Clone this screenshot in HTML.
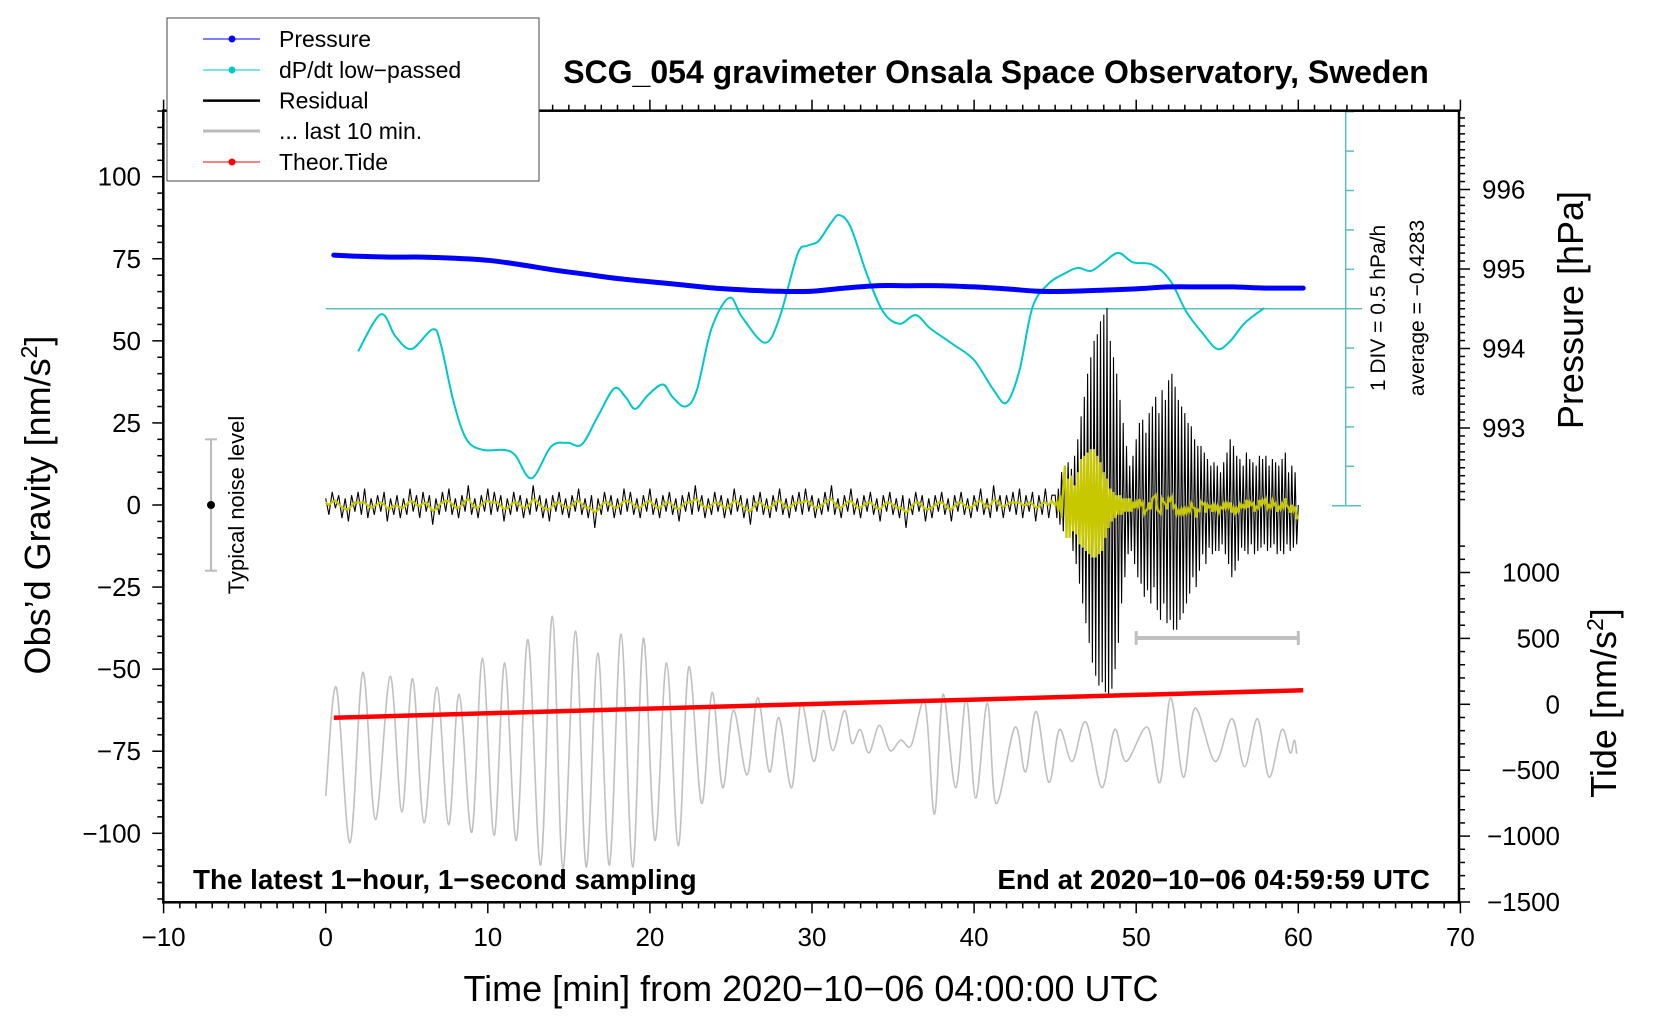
<!DOCTYPE html>
<html><head><meta charset="utf-8"><style>
html,body{margin:0;padding:0;background:#fff;}
svg{display:block;font-family:"Liberation Sans",sans-serif;}
</style></head><body>
<svg id="chart" width="1660" height="1020" viewBox="0 0 1660 1020" xmlns="http://www.w3.org/2000/svg">
<rect x="0" y="0" width="1660" height="1020" fill="#fff"/>
<g id="ticks"></g>
<g id="marks"></g>
<rect x="163.3" y="110.7" width="1295.7" height="791.6" fill="none" stroke="#000" stroke-width="2.5"/>
<text x="996" y="83" text-anchor="middle" font-size="32" font-weight="bold">SCG_054 gravimeter Onsala Space Observatory, Sweden</text>
<text x="193" y="889" font-size="27.8" font-weight="bold">The latest 1−hour, 1−second sampling</text>
<text x="1430" y="889" text-anchor="end" font-size="27.8" font-weight="bold">End at 2020−10−06 04:59:59 UTC</text>
<text x="811" y="1001" text-anchor="middle" font-size="36">Time [min] from 2020−10−06 04:00:00 UTC</text>
<text transform="translate(50,505) rotate(-90)" text-anchor="middle" font-size="36">Obs’d Gravity [nm/s<tspan font-size="23" dy="-13">2</tspan><tspan dy="13">]</tspan></text>
<text transform="translate(1583,310) rotate(-90)" text-anchor="middle" font-size="36">Pressure [hPa]</text>
<text transform="translate(1616,703) rotate(-90)" text-anchor="middle" font-size="36">Tide [nm/s<tspan font-size="23" dy="-13">2</tspan><tspan dy="13">]</tspan></text>
<text transform="translate(1385,308) rotate(-90)" text-anchor="middle" font-size="21">1 DIV = 0.5 hPa/h</text>
<text transform="translate(1424,308) rotate(-90)" text-anchor="middle" font-size="21">average = −0.4283</text>
<g>
<line x1="211" y1="439.3" x2="211" y2="570.7" stroke="#bbb" stroke-width="2"/>
<line x1="205" y1="439.3" x2="217" y2="439.3" stroke="#bbb" stroke-width="2"/>
<line x1="205" y1="570.7" x2="217" y2="570.7" stroke="#bbb" stroke-width="2"/>
<circle cx="211" cy="505" r="4" fill="#000"/>
<text transform="translate(244,505) rotate(-90)" text-anchor="middle" font-size="22">Typical noise level</text>
</g>
<g>
<rect x="167" y="18" width="372" height="163" fill="#fff" stroke="#444" stroke-width="1"/>
<g><line x1="203" y1="39" x2="260" y2="39" stroke="#00f" stroke-width="1"/><circle cx="232" cy="39" r="3.5" fill="#00f"/><text x="279" y="47" font-size="23">Pressure</text></g>
<g><line x1="203" y1="70" x2="260" y2="70" stroke="#00c8c8" stroke-width="1"/><circle cx="232" cy="70" r="3.5" fill="#00c8c8"/><text x="279" y="78" font-size="23">dP/dt low−passed</text></g>
<g><line x1="203" y1="100.6" x2="260" y2="100.6" stroke="#000" stroke-width="2.5"/><text x="279" y="108.6" font-size="23">Residual</text></g>
<g><line x1="203" y1="131" x2="260" y2="131" stroke="#bbb" stroke-width="3"/><text x="279" y="139" font-size="23">... last 10 min.</text></g>
<g><line x1="203" y1="162" x2="260" y2="162" stroke="#f00" stroke-width="1"/><circle cx="232" cy="162" r="3.5" fill="#f00"/><text x="279" y="170" font-size="23">Theor.Tide</text></g>
</g>
</svg>
<script>
// ---- data ----
const xTicks = [-10,0,10,20,30,40,50,60,70];
const gTicks = [-100,-75,-50,-25,0,25,50,75,100];
const pTicks = [993,994,995,996];
const tideTicks = [-1500,-1000,-500,0,500,1000];
const dpdtAvg = -0.4283;
const pressT = [0.5,2,4,6,8,10,12,14,16,18,20,22,24,26,28,30,32,34,36,38,40,42,44,46,48,50,52,54,56,58,60.3];
const pressV = [995.175,995.16,995.15,995.15,995.135,995.11,995.055,994.99,994.935,994.88,994.84,994.80,994.76,994.735,994.72,994.72,994.76,994.79,994.79,994.79,994.775,994.75,994.72,994.72,994.735,994.75,994.775,994.775,994.775,994.76,994.76];
const dpT = [2.0,3.4,4.3,5.3,6.6,7.1,7.9,8.7,9.7,11.0,11.7,12.7,13.9,14.9,15.8,16.8,17.8,18.5,19.1,19.9,20.8,21.4,22.2,22.9,23.8,24.9,25.7,27.1,28.0,29.1,29.7,30.4,31.2,31.7,32.4,33.4,34.4,35.4,36.4,37.3,38.7,40.0,41.2,42.0,42.8,43.6,44.6,45.6,46.4,47.2,48.0,48.9,49.8,51.0,52.1,53.1,54.1,55.0,55.8,56.7,57.9];
const dpV = [-0.97,-0.50,-0.78,-0.94,-0.69,-0.88,-1.62,-2.09,-2.22,-2.22,-2.29,-2.58,-2.18,-2.13,-2.15,-1.79,-1.44,-1.55,-1.70,-1.52,-1.39,-1.55,-1.67,-1.46,-0.68,-0.29,-0.54,-0.86,-0.54,0.26,0.37,0.43,0.67,0.76,0.60,0.00,-0.47,-0.62,-0.51,-0.68,-0.88,-1.08,-1.46,-1.62,-1.21,-0.41,-0.11,0.02,0.09,0.05,0.16,0.28,0.16,0.13,-0.07,-0.47,-0.74,-0.94,-0.84,-0.61,-0.42];
const resEarlyStart = 0, resEarlyStep = 0.2;
const resEarly = [2,-3,4,-1,3,-4,2,-5,3,-2,4,-3,5,-4,2,
-3,3,-2,4,-5,2,-3,3,-4,2,-3,5,-2,3,-4,
4,-2,3,-6,2,-3,4,-2,5,-3,2,-4,3,-2,6,
-3,2,-4,3,-2,5,-3,4,-2,3,-5,2,-3,4,-2,
3,-4,2,-3,6,-2,3,-4,2,-5,3,-2,4,-3,2,
-4,3,-2,5,-3,2,-4,3,-7,2,-3,4,-2,3,-4,
2,-3,5,-2,4,-3,2,-4,3,-2,5,-3,2,-4,3,
-2,4,-3,2,-5,3,-2,4,-3,6,-2,3,-4,2,-3,
4,-2,3,-4,2,-3,5,-2,3,-4,2,-6,3,-2,4,
-3,2,-4,3,-2,5,-3,2,-4,3,-2,4,-3,5,-2,
3,-4,2,-3,4,-2,6,-3,2,-4,3,-2,5,-3,2,
-4,3,-2,4,-3,2,-5,3,-2,4,-3,2,-4,3,-7,
2,-3,4,-2,3,-5,2,-4,3,-2,4,-3,2,-5,3,
-2,4,-3,2,-4,3,-2,5,-3,2,-4,6,-2,3,-4,
3,-2,4,-3,5,-4,3,-2,4,-5,3,-3,5,-4,3];
const resQuakeStart = 45, resQuakeStep = 0.1;
const resQuake = [3,-4,5,-6,10,-8,12,-10,13,-9,
11,-14,15,-18,20,-24,27,-30,33,-36,
40,-42,45,-48,50,-52,52,-55,56,-54,
58,-57,60,-58,50,-56,45,-50,40,-42,
32,-30,25,-22,18,-15,12,-14,15,-18,
20,-22,25,-24,26,-28,22,-26,28,-30,
30,-25,33,-32,28,-35,35,-30,32,-36,
38,-35,40,-38,36,-38,32,-35,30,-33,
28,-30,25,-27,24,-22,20,-25,18,-20,
18,-15,16,-18,14,-13,12,-15,13,-14,
12,-14,10,-12,13,-15,16,-18,20,-22,
18,-20,15,-17,14,-13,12,-14,16,-15,
14,-12,13,-15,12,-14,15,-13,14,-12,
15,-14,12,-13,14,-12,13,-15,12,-14,
14,-15,16,-12,10,-14,12,-13,10,-12,0];
const yellowQuake = [0,1,-2,3,-4,6,12,-10,8,-10,9,-8,6,-9,10,-12,14,-13,15,-14,16,-15,17,-16,17,-16,15,-15,13,-14,10,-10,8,-7,5,-5,4,-4,3,-3,3,-3,2,-2,2,-2,2,-2,1,-1,1];
const grayT = [0,0.65,1.5,2.29,3.07,3.98,4.7,5.36,6.07,6.86,7.58,8.23,9.01,9.67,10.39,11.04,11.76,12.48,13.26,13.98,14.63,15.41,16.07,16.79,17.5,18.22,18.94,19.6,20.31,21.03,21.75,22.4,23.19,23.84,24.49,25.15,26.0,26.65,27.37,27.96,28.74,29.33,30.11,30.7,31.29,32.0,32.46,32.98,33.51,34.16,34.81,35.47,36.12,36.97,37.56,38.08,38.86,39.52,40.1,40.82,41.35,42.52,43.17,43.83,44.61,45.26,46.05,46.9,47.88,48.66,49.38,50.69,51.47,52.12,52.91,53.63,54.87,55.91,56.69,57.48,58.2,58.98,59.5,59.76,59.9];
const grayV = [-88.7,-55.5,-102.9,-51.0,-95.8,-52.2,-93.5,-52.9,-96.8,-55.5,-97.4,-57.7,-99.7,-46.8,-100.6,-48.1,-102.2,-41.0,-109.7,-33.9,-110.9,-38.4,-110.3,-45.1,-109.7,-39.3,-110.3,-40.6,-102.2,-48.1,-103.8,-49.3,-90.9,-57.1,-86.1,-62.6,-82.2,-58.7,-81.3,-64.8,-86.1,-60.3,-78.1,-62.6,-74.8,-62.6,-72.6,-68.4,-75.5,-67.1,-74.8,-71.6,-73.2,-60.3,-94.2,-57.7,-86.1,-59.0,-89.3,-60.3,-90.9,-67.7,-81.3,-62.9,-84.5,-68.4,-78.1,-66.1,-86.1,-68.4,-78.1,-67.7,-84.5,-58.7,-82.9,-61.9,-78.1,-65.1,-79.7,-65.1,-82.9,-68.4,-75.5,-71.6,-75.8];
const tideT = [0.5,10,20,30,40,50,60.3];
const tideV = [-102,-68,-33,2,36,71,106];
const scaleBarT = [50,60];
const scaleBarG = -40.5;

// ---- axes ----
const X = t => 325.7 + t*16.21;
const G = g => 505 - g*3.283;
const P = p => 269 - (p-995)*79.5;
const TD = v => 704.3 - v*0.1318;
const D = v => 308.7 - (v - dpdtAvg)/0.5*39.4;
const NS = 'http://www.w3.org/2000/svg';
const ticksG = document.getElementById('ticks');
const marks = document.getElementById('marks');
function mk(tag, attrs, parent){const e=document.createElementNS(NS,tag);for(const k in attrs)e.setAttribute(k,attrs[k]);parent.appendChild(e);return e;}
function smooth(pts){
  let d='M'+pts[0][0].toFixed(1)+','+pts[0][1].toFixed(1);
  for(let i=0;i<pts.length-1;i++){
    const p0=pts[Math.max(0,i-1)],p1=pts[i],p2=pts[i+1],p3=pts[Math.min(pts.length-1,i+2)];
    const c1=[p1[0]+(p2[0]-p0[0])/6,p1[1]+(p2[1]-p0[1])/6],c2=[p2[0]-(p3[0]-p1[0])/6,p2[1]-(p3[1]-p1[1])/6];
    d+='C'+c1[0].toFixed(1)+','+c1[1].toFixed(1)+' '+c2[0].toFixed(1)+','+c2[1].toFixed(1)+' '+p2[0].toFixed(1)+','+p2[1].toFixed(1);
  }
  return d;
}
function poly(pts){return 'M'+pts.map(p=>p[0].toFixed(1)+','+p[1].toFixed(1)).join('L');}
const fmt = v => String(v).replace('-','−');

for(let t=-10;t<=70;t++){
  const major = t%10===0, len = major?11:6;
  mk('line',{x1:X(t),y1:902.3,x2:X(t),y2:902.3+len,stroke:'#000','stroke-width':1.5},ticksG);
  mk('line',{x1:X(t),y1:110.7,x2:X(t),y2:110.7-len,stroke:'#000','stroke-width':1.5},ticksG);
}
xTicks.forEach(t=>{
  const e=mk('text',{x:X(t),y:946,'text-anchor':'middle','font-size':26},ticksG);
  e.textContent=fmt(t);
  
  
});
for(let g=-120;g<=120;g+=5){
  const major=g%25===0;
  mk('line',{x1:163.3,y1:G(g),x2:163.3-(major?11:6),y2:G(g),stroke:'#000','stroke-width':1.5},ticksG);
}
gTicks.forEach(g=>{
  const e=mk('text',{x:141,y:G(g)+9,'text-anchor':'end','font-size':26},ticksG);
  e.textContent=fmt(g);
  
  
});
for(let i=0;i<=49;i++){
  const p=992.1+i*0.1, y=P(p); if(y<110.7) continue;
  const major=Math.abs(p-Math.round(p))<0.01;
  mk('line',{x1:1459,y1:y,x2:1459+(major?11:6),y2:y,stroke:'#000','stroke-width':1.5},ticksG);
}
pTicks.forEach(p=>{
  const e=mk('text',{x:1482,y:P(p)+9,'font-size':26},ticksG);
  e.textContent=fmt(p);
  
  
});
for(let v=-1500;v<=1200;v+=100){
  const major=v%500===0;
  mk('line',{x1:1459,y1:TD(v),x2:1459+(major?11:6),y2:TD(v),stroke:'#000','stroke-width':1.5},ticksG);
}
tideTicks.forEach(v=>{
  const e=mk('text',{x:1560,y:TD(v)+9,'text-anchor':'end','font-size':26},ticksG);
  e.textContent=fmt(v);
  
  
});
mk('line',{x1:1345.7,y1:110.7,x2:1345.7,y2:505,stroke:'#5bbfbf','stroke-width':1.5},ticksG);
for(let k=0;k<=10;k++){
  const y=D(dpdtAvg-2.5+k*0.5);
  mk('line',{x1:1345.7,y1:y,x2:1354,y2:y,stroke:'#5bbfbf','stroke-width':1.5},ticksG);
}
mk('line',{x1:1332,y1:D(dpdtAvg-2.5),x2:1361,y2:D(dpdtAvg-2.5),stroke:'#5bbfbf','stroke-width':1.5},ticksG);
const avgLine=mk('line',{x1:325.7,y1:D(dpdtAvg),x2:1362,y2:D(dpdtAvg),stroke:'#5bbfbf','stroke-width':1.5},marks);



const grayPath=mk('path',{d:smooth(grayT.map((t,i)=>[X(t),G(grayV[i])])),fill:'none',stroke:'#c0c0c0','stroke-width':1.6},marks);


const sb=mk('g',{},marks);


mk('line',{x1:X(scaleBarT[0]),y1:G(scaleBarG),x2:X(scaleBarT[1]),y2:G(scaleBarG),stroke:'#c0c0c0','stroke-width':4},sb);
scaleBarT.forEach(t=>mk('line',{x1:X(t),y1:G(scaleBarG)-7,x2:X(t),y2:G(scaleBarG)+7,stroke:'#c0c0c0','stroke-width':3},sb));

const resPts=[];
resEarly.forEach((v,i)=>resPts.push([resEarlyStart+i*resEarlyStep,v]));
resQuake.forEach((v,i)=>resPts.push([resQuakeStart+i*resQuakeStep,v]));
const resPath=mk('path',{d:poly(resPts.map(p=>[X(p[0]),G(p[1])])),fill:'none',stroke:'#000','stroke-width':1.1},marks);


const yPts=[];
resEarly.forEach((v,i)=>{const a=resEarly[Math.max(0,i-1)],b=resEarly[Math.min(resEarly.length-1,i+1)];yPts.push([resEarlyStart+i*resEarlyStep,(a+2*v+b)/4]);});
yellowQuake.forEach((v,i)=>yPts.push([resQuakeStart+i*resQuakeStep,v]));
for(let i=yellowQuake.length;i<resQuake.length;i++){yPts.push([resQuakeStart+i*resQuakeStep,(resQuake[i-1]+2*resQuake[i]+resQuake[Math.min(resQuake.length-1,i+1)])/4+0.8*Math.sign(resQuake[i])]);}
const yPath=mk('path',{d:poly(yPts.map(p=>[X(p[0]),G(p[1])])),fill:'none',stroke:'#c8c800','stroke-width':2.2},marks);



const dpPath=mk('path',{d:smooth(dpT.map((t,i)=>[X(t),D(dpV[i])])),fill:'none',stroke:'#00c8c8','stroke-width':2},marks);


const pPath=mk('path',{d:smooth(pressT.map((t,i)=>[X(t),P(pressV[i])])),fill:'none',stroke:'#0000ff','stroke-width':5,'stroke-linecap':'round'},marks);


const tPath=mk('path',{d:poly(tideT.map((t,i)=>[X(t),TD(tideV[i])])),fill:'none',stroke:'#ff0000','stroke-width':4.5},marks);


</script>
</body></html>
